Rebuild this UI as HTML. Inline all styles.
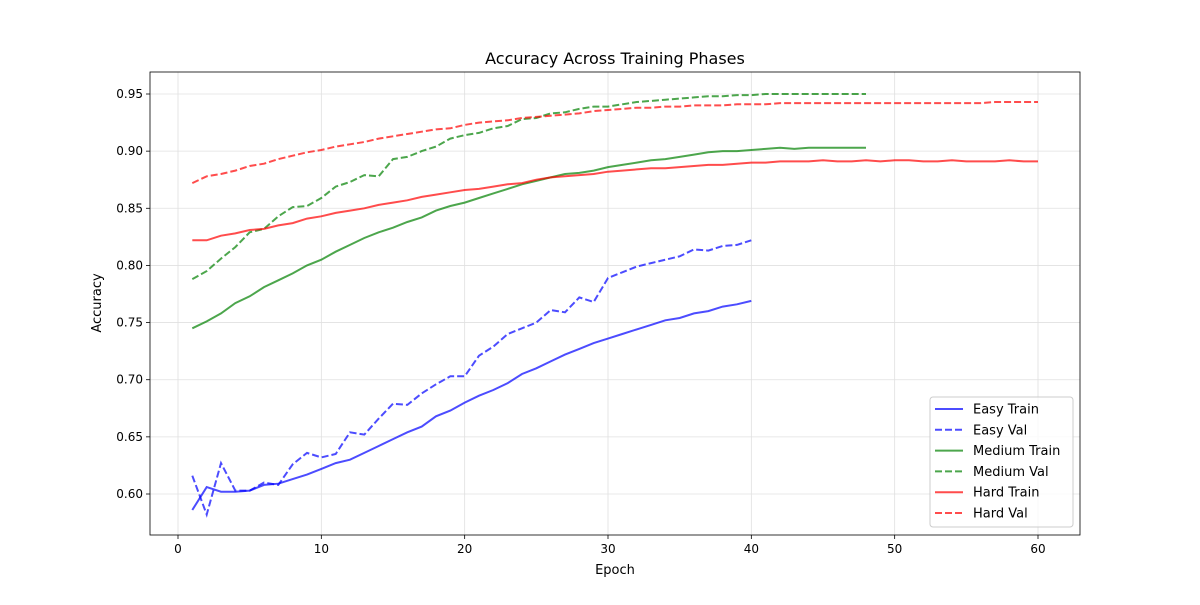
<!DOCTYPE html>
<html><head><meta charset="utf-8"><style>
body{margin:0;background:#fff;font-family:"Liberation Sans","DejaVu Sans",sans-serif;}
svg text{font-family:"DejaVu Sans","Liberation Sans",sans-serif;}
</style></head><body>
<svg id="chart" width="1200" height="600" xmlns="http://www.w3.org/2000/svg">
<rect width="1200" height="600" fill="#fff"/>
<g id="grid"></g><g id="series"></g><g id="axes"></g>
<text x="615" y="64" text-anchor="middle" font-size="16">Accuracy Across Training Phases</text>
<text x="615" y="574" text-anchor="middle" font-size="13">Epoch</text>
<text transform="translate(101,303) rotate(-90)" text-anchor="middle" font-size="13">Accuracy</text>
<g id="legend"></g>
</svg>
<script>
const easyTrain=[0.586,0.606,0.602,0.602,0.603,0.608,0.609,0.613,0.617,0.622,0.627,0.630,0.636,0.642,0.648,0.654,0.659,0.668,0.673,0.680,0.686,0.691,0.697,0.705,0.710,0.716,0.722,0.727,0.732,0.736,0.740,0.744,0.748,0.752,0.754,0.758,0.760,0.764,0.766,0.769];
const easyVal=[0.616,0.582,0.627,0.603,0.603,0.610,0.608,0.626,0.636,0.632,0.635,0.654,0.652,0.666,0.679,0.678,0.688,0.696,0.703,0.703,0.721,0.729,0.740,0.745,0.750,0.761,0.759,0.772,0.768,0.789,0.794,0.799,0.802,0.805,0.808,0.814,0.813,0.817,0.818,0.822];
const mediumTrain=[0.745,0.751,0.758,0.767,0.773,0.781,0.787,0.793,0.800,0.805,0.812,0.818,0.824,0.829,0.833,0.838,0.842,0.848,0.852,0.855,0.859,0.863,0.867,0.871,0.874,0.877,0.880,0.881,0.883,0.886,0.888,0.890,0.892,0.893,0.895,0.897,0.899,0.900,0.900,0.901,0.902,0.903,0.902,0.903,0.903,0.903,0.903,0.903];
const mediumVal=[0.788,0.795,0.806,0.816,0.829,0.832,0.843,0.851,0.852,0.859,0.869,0.873,0.879,0.878,0.893,0.895,0.900,0.904,0.911,0.914,0.916,0.920,0.922,0.928,0.929,0.933,0.934,0.937,0.939,0.939,0.941,0.943,0.944,0.945,0.946,0.947,0.948,0.948,0.949,0.949,0.950,0.950,0.950,0.950,0.950,0.950,0.950,0.950];
const hardTrain=[0.822,0.822,0.826,0.828,0.831,0.832,0.835,0.837,0.841,0.843,0.846,0.848,0.850,0.853,0.855,0.857,0.860,0.862,0.864,0.866,0.867,0.869,0.871,0.872,0.875,0.877,0.878,0.879,0.880,0.882,0.883,0.884,0.885,0.885,0.886,0.887,0.888,0.888,0.889,0.890,0.890,0.891,0.891,0.891,0.892,0.891,0.891,0.892,0.891,0.892,0.892,0.891,0.891,0.892,0.891,0.891,0.891,0.892,0.891,0.891];
const hardVal=[0.872,0.878,0.880,0.883,0.887,0.889,0.893,0.896,0.899,0.901,0.904,0.906,0.908,0.911,0.913,0.915,0.917,0.919,0.920,0.923,0.925,0.926,0.927,0.929,0.930,0.931,0.932,0.933,0.935,0.936,0.937,0.938,0.938,0.939,0.939,0.940,0.940,0.940,0.941,0.941,0.941,0.942,0.942,0.942,0.942,0.942,0.942,0.942,0.942,0.942,0.942,0.942,0.942,0.942,0.942,0.942,0.943,0.943,0.943,0.943];
const xTicks=[0,10,20,30,40,50,60];
const yTicks=[0.60,0.65,0.70,0.75,0.80,0.85,0.90,0.95];
const seriesNames=["Easy Train","Easy Val","Medium Train","Medium Val","Hard Train","Hard Val"];

const L=150,R=1080,T=72,B=535;
const xS=v=>178+(v)*(1038-178)/60;
const yS=v=>494-(v-0.60)*(400/0.35);
const NS="http://www.w3.org/2000/svg";
function mk(tag,attrs,parent){const e=document.createElementNS(NS,tag);for(const k in attrs)e.setAttribute(k,attrs[k]);parent.appendChild(e);return e;}
const grid=document.getElementById('grid'),axes=document.getElementById('axes'),ser=document.getElementById('series'),leg=document.getElementById('legend');
xTicks.forEach(t=>{const x=xS(t);
 const g=mk('line',{x1:x,x2:x,y1:T,y2:B,stroke:'#e0e0e0','stroke-width':0.8},grid);
 
 
 mk('line',{x1:x,x2:x,y1:B,y2:B+4,stroke:'#000','stroke-width':0.8},axes);
 const tx=mk('text',{x:x,y:B+18,'text-anchor':'middle','font-size':12},axes);tx.textContent=t;
 
 
});
yTicks.forEach(t=>{const y=yS(t);
 const g=mk('line',{x1:L,x2:R,y1:y,y2:y,stroke:'#e0e0e0','stroke-width':0.8},grid);
 
 
 mk('line',{x1:L-4,x2:L,y1:y,y2:y,stroke:'#000','stroke-width':0.8},axes);
 const tx=mk('text',{x:L-7,y:y+4,'text-anchor':'end','font-size':12},axes);tx.textContent=t.toFixed(2);
 
 
});
const frame=mk('rect',{x:L,y:T,width:R-L,height:B-T,fill:'none',stroke:'#000','stroke-width':0.8},axes);


const data=[easyTrain,easyVal,mediumTrain,mediumVal,hardTrain,hardVal];
const colors=['#0000ff','#0000ff','#008000','#008000','#ff0000','#ff0000'];
data.forEach((arr,i)=>{
 const d=arr.map((v,j)=>(j?'L':'M')+xS(j+1).toFixed(1)+','+yS(v).toFixed(1)).join(' ');
 const p=mk('path',{d:d,fill:'none',stroke:colors[i],'stroke-opacity':0.7,'stroke-width':2,'stroke-dasharray':i%2?'7,3':'none'},ser);
 
 
});
const lb=mk('rect',{x:930,y:397,width:143,height:130,rx:3,fill:'#fff','fill-opacity':0.8,stroke:'#ccc'},leg);


seriesNames.forEach((n,i)=>{const y=409+i*20.8;
 const g=mk('g',{},leg);
 
 
 mk('line',{x1:935,x2:963,y1:y,y2:y,stroke:colors[i],'stroke-opacity':0.7,'stroke-width':2,'stroke-dasharray':i%2?'7,3':'none'},g);
 const t=mk('text',{x:973,y:y+4.5,'font-size':13},g);t.textContent=n;
});
</script>
</body></html>
